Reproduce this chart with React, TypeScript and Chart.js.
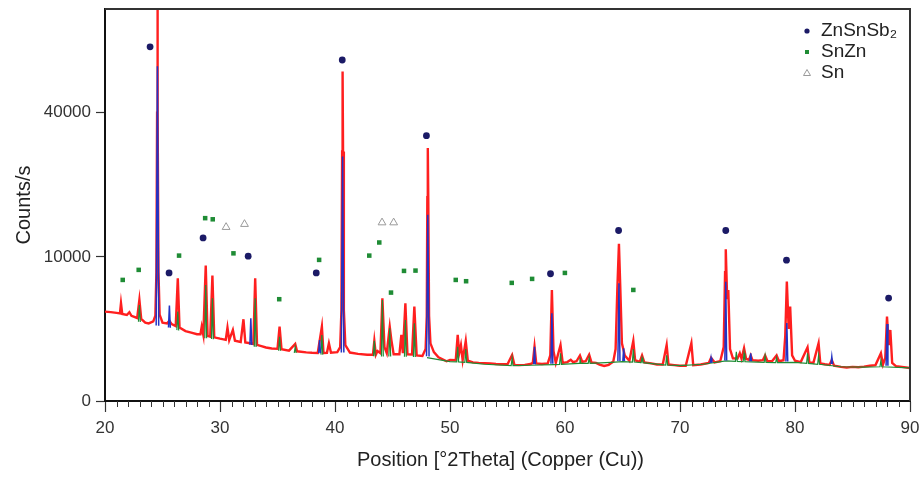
import React, { useEffect, useRef } from 'react';
import { Chart, registerables, LinearScale } from 'chart.js';

Chart.register(...registerables);

// Square-root intensity axis, as in the reference diffractogram
class SqrtScale extends LinearScale {
  static id = 'sqrt';
  getPixelForValue(value: number) {
    const s0 = Math.sqrt(Math.max(this.min, 0));
    const s1 = Math.sqrt(Math.max(this.max, 0));
    const v = Math.sqrt(Math.max(value, 0));
    return this.getPixelForDecimal((v - s0) / (s1 - s0));
  }
  getValueForPixel(pixel: number) {
    const s0 = Math.sqrt(Math.max(this.min, 0));
    const s1 = Math.sqrt(Math.max(this.max, 0));
    const s = s0 + this.getDecimalForPixel(pixel) * (s1 - s0);
    return s * s;
  }
}
Chart.register(SqrtScale as any);

// ---------------- data ----------------
const xTickValues = [20, 30, 40, 50, 60, 70, 80, 90];
const yTickValues = [0, 10000, 40000];
const xMin = 20;
const xMax = 90;
const yMax = 74000;

// measured pattern [2theta, counts/s]
const measured: number[][] = [
  [20.0, 3850], [20.5, 3800], [21.0, 3740], [21.3, 3700], [21.39, 4600], [21.5, 3650],
  [21.9, 3560], [22.12, 3800], [22.3, 3500], [22.8, 3320], [22.99, 4920], [23.15, 3250],
  [23.5, 2950], [23.8, 2900], [24.2, 3050], [24.38, 3500], [24.47, 8000], [24.53, 40000],
  [24.56, 90000], [24.59, 40000], [24.65, 8000], [24.75, 3600], [25.0, 2950], [25.4, 2900],
  [25.6, 3100], [25.8, 2850], [26.15, 2700], [26.33, 7260], [26.48, 2600], [27.0, 2350],
  [27.5, 2250], [28.0, 2150], [28.3, 2150], [28.41, 2660], [28.55, 2100], [28.76, 8830],
  [28.92, 2050], [29.15, 2000], [29.34, 7570], [29.5, 1950], [30.0, 1870], [30.5, 1800],
  [30.65, 2590], [30.8, 1780], [31.12, 2430], [31.3, 1750], [31.8, 1680], [32.04, 3220],
  [32.2, 1650], [32.5, 1620], [32.9, 1560], [33.06, 7260], [33.22, 1520], [33.6, 1450],
  [34.0, 1380], [34.5, 1330], [35.0, 1310], [35.18, 2660], [35.35, 1290], [36.0, 1220],
  [36.54, 1570], [36.7, 1190], [37.5, 1140], [38.0, 1120], [38.5, 1110], [38.86, 2660],
  [39.0, 1110], [39.3, 1120], [39.47, 1600], [39.65, 1120], [40.2, 1150], [40.45, 1400],
  [40.56, 4000], [40.62, 30000], [40.66, 52300], [40.7, 30000], [40.77, 4000], [40.9, 1500],
  [41.3, 1130], [42.0, 1070], [42.8, 1030], [43.3, 1030], [43.42, 1740], [43.55, 1030],
  [43.7, 1200], [43.95, 1100], [44.12, 5090], [44.3, 1400], [44.5, 1100], [44.76, 2660],
  [44.9, 1800], [45.1, 1050], [45.6, 1050], [45.77, 2100], [45.9, 1100], [46.12, 4600],
  [46.3, 1050], [46.7, 1040], [46.9, 4290], [47.1, 1000], [47.6, 980], [47.88, 1300],
  [47.98, 3500], [48.03, 20000], [48.07, 30800], [48.11, 20000], [48.18, 3500], [48.3, 1600],
  [48.6, 1150], [49.0, 920], [49.7, 760], [50.0, 810], [50.5, 800], [50.67, 2100],
  [50.8, 1100], [50.95, 1500], [51.1, 800], [51.37, 1740], [51.55, 780], [52.0, 720],
  [52.5, 700], [53.0, 690], [53.5, 680], [54.0, 660], [54.5, 650], [55.0, 650],
  [55.4, 1020], [55.6, 630], [56.0, 620], [56.5, 630], [57.0, 660], [57.2, 700],
  [57.35, 1420], [57.5, 680], [58.0, 660], [58.5, 680], [58.72, 1000], [58.86, 5940],
  [59.0, 1200], [59.2, 700], [59.61, 1510], [59.8, 700], [60.2, 730], [60.5, 820],
  [60.7, 730], [61.0, 760], [61.3, 1000], [61.5, 740], [61.8, 760], [62.1, 1030],
  [62.3, 720], [62.7, 700], [63.0, 640], [63.4, 590], [63.8, 630], [64.2, 750],
  [64.4, 1300], [64.55, 6000], [64.69, 11890], [64.8, 6500], [64.95, 1600], [65.2, 1000],
  [65.6, 780], [65.94, 1740], [66.1, 800], [66.5, 740], [66.7, 1000], [66.9, 720],
  [67.5, 680], [68.0, 640], [68.5, 640], [68.84, 1510], [69.0, 640], [69.5, 620],
  [70.0, 600], [70.5, 600], [70.99, 1610], [71.15, 620], [71.8, 640], [72.5, 700],
  [72.7, 900], [73.0, 720], [73.5, 760], [73.8, 1400], [73.92, 8000], [73.98, 11090],
  [74.1, 5000], [74.2, 5940], [74.35, 1300], [74.6, 880], [75.0, 870], [75.2, 1100],
  [75.35, 860], [75.57, 1340], [75.75, 850], [76.0, 820], [76.15, 1000], [76.3, 800],
  [76.8, 780], [77.2, 800], [77.4, 1000], [77.6, 770], [78.0, 760], [78.4, 1000],
  [78.6, 760], [79.0, 800], [79.15, 2000], [79.29, 6860], [79.45, 2500], [79.58, 4290],
  [79.75, 1000], [80.0, 780], [80.5, 730], [81.09, 1390], [81.25, 720], [81.6, 700],
  [82.05, 1610], [82.2, 680], [82.6, 650], [83.0, 630], [83.2, 800], [83.4, 600],
  [84.0, 560], [84.5, 540], [85.0, 560], [85.5, 550], [86.0, 570], [86.5, 600],
  [87.0, 620], [87.47, 1100], [87.65, 640], [87.85, 900], [88.0, 3430], [88.15, 1500],
  [88.29, 2430], [88.45, 700], [88.8, 580], [89.3, 560], [90.0, 525],
];

// calculated ZnSnSb2 profile
const calcZnSnSb2: number[][] = [
  [20, 3700], [22, 3300], [24, 2850], [24.45, 2750], [24.56, 54000], [24.67, 2720],
  [25.0, 2650], [25.52, 2600], [25.6, 4380], [25.68, 2580], [26, 2450], [28, 2100],
  [28.34, 2060], [28.41, 2430], [28.48, 2050], [30, 1800], [32, 1580], [32.6, 1520],
  [32.68, 3300], [32.76, 1510], [34, 1350], [36, 1200], [38, 1100], [38.58, 1100],
  [38.66, 1790], [38.74, 1100], [40, 1120], [40.55, 1130], [40.66, 28800], [40.77, 1130],
  [42, 1040], [44, 1000], [46, 980], [47.96, 960], [48.07, 16700], [48.18, 950],
  [50, 780], [52, 700], [54, 660], [56, 640], [57.28, 650], [57.35, 1420], [57.42, 650],
  [58, 660], [58.78, 670], [58.86, 3710], [58.94, 670], [60, 700], [62, 720], [64, 760],
  [64.6, 770], [64.69, 6680], [64.78, 770], [65.03, 770], [65.1, 1340], [65.17, 770],
  [66, 760], [68, 680], [70, 640], [72, 680], [72.63, 700], [72.7, 900], [72.77, 700],
  [73.9, 790], [73.98, 6860], [74.06, 790], [76, 760], [76.08, 760], [76.15, 1100],
  [76.22, 760], [78, 740], [79.21, 750], [79.29, 2930], [79.37, 750], [80, 760],
  [82, 680], [83.13, 660], [83.2, 950], [83.27, 660], [84, 600], [86, 580], [86.73, 590],
  [86.8, 700], [86.87, 590], [87.92, 600], [88.0, 2860], [88.08, 600], [90, 560],
];

// calculated SnZn profile
const calcSnZn: number[][] = [
  [20, 3550], [21, 3450], [21.31, 3400], [21.39, 3950], [21.47, 3380], [22, 3240],
  [22.91, 3030], [22.99, 4440], [23.07, 3010], [24, 2790], [25, 2650], [26, 2460],
  [26.25, 2420], [26.33, 3850], [26.41, 2400], [27, 2180], [28, 1990], [28.68, 1900],
  [28.76, 6490], [28.84, 1890], [29.26, 1850], [29.34, 5090], [29.42, 1840], [30, 1730],
  [31.04, 1610], [31.12, 2000], [31.2, 1600], [32, 1510], [32.98, 1420], [33.06, 5090],
  [33.14, 1410], [34, 1300], [35.1, 1220], [35.18, 1990], [35.26, 1215], [36, 1140],
  [36.46, 1115], [36.54, 1400], [36.62, 1110], [38, 1040], [38.78, 1035], [38.86, 2100],
  [38.94, 1035], [40, 1050], [42, 990], [43.34, 965], [43.42, 1740], [43.5, 965],
  [44.04, 955], [44.12, 4920], [44.2, 955], [44.68, 955], [44.76, 2550], [44.84, 955],
  [46.04, 945], [46.12, 3160], [46.2, 945], [46.82, 935], [46.9, 2910], [46.98, 935],
  [48, 905], [50, 745], [50.59, 735], [50.67, 1420], [50.75, 735], [51.29, 720],
  [51.37, 1300], [51.45, 720], [53, 650], [55.32, 605], [55.4, 900], [55.48, 605],
  [57, 615], [59, 635], [59.53, 645], [59.61, 1100], [59.69, 645], [61.22, 680],
  [61.3, 900], [61.38, 680], [62.02, 680], [62.1, 900], [62.18, 680], [64, 720],
  [65, 745], [65.86, 730], [65.94, 1300], [66.02, 730], [66.62, 710], [66.7, 900],
  [66.78, 710], [68.76, 625], [68.84, 1000], [68.92, 625], [70, 605], [72, 650],
  [74, 775], [74.82, 755], [74.9, 1170], [74.98, 755], [75.49, 745], [75.57, 1100],
  [75.65, 745], [77.32, 720], [77.4, 1000], [77.48, 720], [78.32, 710], [78.4, 900],
  [78.48, 710], [80, 720], [81.01, 680], [81.09, 1100], [81.17, 680], [81.97, 650],
  [82.05, 1000], [82.13, 650], [84, 565], [86, 550], [87.39, 565], [87.47, 800],
  [87.55, 565], [90, 530],
];

// phase reflection markers
const znSnSb2X = [23.92, 25.57, 28.53, 32.45, 38.37, 40.63, 47.95, 58.74, 64.66, 73.98, 79.26, 88.14];
const znSnSb2Y = [60400, 7900, 12800, 10100, 7900, 56000, 33900, 7800, 14000, 14000, 9550, 5100];
const snZnX = [21.54, 22.93, 26.44, 28.71, 29.37, 31.17, 35.15, 38.62, 42.98, 43.85, 44.87, 46.0, 47.0, 50.5, 51.4, 55.37, 57.14, 59.99, 65.94];
const snZnY = [7060, 8280, 10180, 16100, 15900, 10500, 4990, 9590, 10180, 12100, 5660, 8150, 8190, 7060, 6910, 6720, 7180, 7900, 5940];
const snX = [30.53, 32.13, 44.09, 45.1];
const snY = [14550, 15060, 15330, 15330];

const legendLabels = ['ZnSnSb₂', 'SnZn', 'Sn'];
const xTitle = 'Position [°2Theta] (Copper (Cu))';
const yTitle = 'Counts/s';

const FONT = '"Liberation Sans", Arial, Helvetica, sans-serif';
const NAVY = '#1b1a66';
const GREEN = '#1f8c35';
const BLUE = '#2233c4';
const RED = '#ff1f1f';
const GRAY = '#9a9a9a';
const CLEAR = 'rgba(0,0,0,0)';

const toPts = (arr: number[][]) => arr.map(([x, y]) => ({ x, y }));
const zipPts = (xs: number[], ys: number[]) => xs.map((x, i) => ({ x, y: ys[i] }));

const decorPlugin = {
  id: 'decor',
  afterDraw(chart: any) {
    const { ctx, chartArea, scales } = chart;
    const { left, right, top, bottom } = chartArea;
    ctx.save();
    // frame top/right
    ctx.strokeStyle = '#333';
    ctx.lineWidth = 2;
    ctx.beginPath();
    ctx.moveTo(left, top);
    ctx.lineTo(right, top);
    ctx.lineTo(right, bottom);
    ctx.stroke();
    // minor x ticks
    ctx.strokeStyle = '#333';
    ctx.lineWidth = 1;
    ctx.beginPath();
    for (let v = xMin + 1; v < xMax; v++) {
      if (v % 10 === 0) continue;
      const px = Math.round(scales.x.getPixelForValue(v)) + 0.5;
      ctx.moveTo(px, bottom);
      ctx.lineTo(px, bottom + 6);
    }
    ctx.stroke();
    // axis titles
    ctx.fillStyle = '#222';
    ctx.font = `20px ${FONT}`;
    ctx.textAlign = 'center';
    ctx.textBaseline = 'middle';
    ctx.fillText(xTitle, (left + right) / 2 - 7, 460);
    ctx.save();
    ctx.translate(24, (top + bottom) / 2);
    ctx.rotate(-Math.PI / 2);
    ctx.fillText(yTitle, 0, 0);
    ctx.restore();
    // legend
    const mx = right - 103;
    const tx = right - 89;
    const rows = [top + 22, top + 43, top + 64];
    ctx.fillStyle = NAVY;
    ctx.beginPath();
    ctx.arc(mx, rows[0], 2.6, 0, Math.PI * 2);
    ctx.fill();
    ctx.fillStyle = GREEN;
    ctx.fillRect(mx - 2, rows[1] - 2, 4, 4);
    ctx.strokeStyle = GRAY;
    ctx.lineWidth = 1;
    ctx.beginPath();
    ctx.moveTo(mx, rows[2] - 3.5);
    ctx.lineTo(mx + 3.5, rows[2] + 2.5);
    ctx.lineTo(mx - 3.5, rows[2] + 2.5);
    ctx.closePath();
    ctx.stroke();
    ctx.fillStyle = '#222';
    ctx.font = `19px ${FONT}`;
    ctx.textAlign = 'left';
    legendLabels.forEach((t, i) => ctx.fillText(t, tx, rows[i]));
    ctx.restore();
  },
};

export default function App() {
  const ref = useRef<HTMLCanvasElement>(null);
  useEffect(() => {
    document.body.style.margin = '0';
    const canvas = ref.current;
    if (!canvas) return;
    const lineDs = (label: string, data: any[], color: string, width: number, extra: any = {}) => ({
      label,
      data,
      showLine: true,
      borderColor: color,
      backgroundColor: color,
      borderWidth: width,
      pointRadius: 0,
      pointHoverRadius: 0,
      tension: 0,
      fill: false,
      ...extra,
    });
    const isPeakSeg = (ctx: any) => {
      const a = ctx.p0.parsed.y;
      const b = ctx.p1.parsed.y;
      return Math.max(a, b) / Math.min(a, b) > 1.25;
    };
    // calculated ZnSnSb2 profile is only visible at its reflections
    const bluePeakOnly = (ctx: any) => (isPeakSeg(ctx) ? BLUE : CLEAR);
    // calculated SnZn background is hidden by the noisy measurement at low angles
    const greenSeg = (ctx: any) => (isPeakSeg(ctx) || ctx.p0.parsed.x >= 48 ? GREEN : CLEAR);
    const chart = new Chart(canvas, {
      type: 'scatter',
      data: {
        datasets: [
          {
            label: 'ZnSnSb2',
            data: zipPts(znSnSb2X, znSnSb2Y),
            pointStyle: 'circle',
            pointRadius: 3.4,
            backgroundColor: NAVY,
            borderColor: NAVY,
            borderWidth: 0,
            showLine: false,
          },
          {
            label: 'SnZn',
            data: zipPts(snZnX, snZnY),
            pointStyle: 'rect',
            pointRadius: 3.2,
            backgroundColor: GREEN,
            borderColor: GREEN,
            borderWidth: 0,
            showLine: false,
          },
          {
            label: 'Sn',
            data: zipPts(snX, snY),
            pointStyle: 'triangle',
            pointRadius: 4.5,
            backgroundColor: CLEAR,
            borderColor: GRAY,
            borderWidth: 1,
            showLine: false,
          },
          lineDs('ZnSnSb2 calc', toPts(calcZnSnSb2), BLUE, 1.5, { segment: { borderColor: bluePeakOnly } }),
          lineDs('SnZn calc', toPts(calcSnZn), GREEN, 1.2, { segment: { borderColor: greenSeg } }),
          lineDs('Measured', toPts(measured), RED, 2.4),
        ] as any,
      },
      options: {
        animation: false,
        responsive: false,
        devicePixelRatio: 1,
        layout: { padding: { top: 9, right: 12, bottom: 0, left: 0 } },
        plugins: { legend: { display: false }, tooltip: { enabled: false } },
        events: [],
        scales: {
          x: {
            type: 'linear',
            min: xMin,
            max: xMax,
            afterBuildTicks: (s: any) => {
              s.ticks = xTickValues.map((value) => ({ value }));
            },
            afterFit: (s: any) => {
              s.height = 77;
              s.paddingLeft = 0;
              s.paddingRight = 0;
            },
            ticks: {
              callback: (v: any) => String(v),
              font: { family: FONT, size: 17 },
              color: '#333',
              padding: 6,
              maxRotation: 0,
              autoSkip: false,
            },
            grid: {
              drawOnChartArea: false,
              drawTicks: true,
              tickLength: 11,
              tickColor: '#333',
              tickWidth: 1.2,
            },
            border: { display: true, color: '#111', width: 2 },
          },
          y: {
            type: 'sqrt' as any,
            min: 0,
            max: yMax,
            afterBuildTicks: (s: any) => {
              s.ticks = yTickValues.map((value) => ({ value }));
            },
            afterFit: (s: any) => {
              s.width = 105;
              s.paddingTop = 0;
              s.paddingBottom = 0;
            },
            ticks: {
              callback: (v: any) => String(v),
              font: { family: FONT, size: 17 },
              color: '#333',
              padding: 5,
              autoSkip: false,
            },
            grid: {
              drawOnChartArea: false,
              drawTicks: true,
              tickLength: 9,
              tickColor: '#333',
              tickWidth: 1.2,
            },
            border: { display: true, color: '#111', width: 2 },
          },
        },
      } as any,
      plugins: [decorPlugin],
    });
    return () => chart.destroy();
  }, []);
  return <canvas ref={ref} width={922} height={478} style={{ display: 'block' }} />;
}
